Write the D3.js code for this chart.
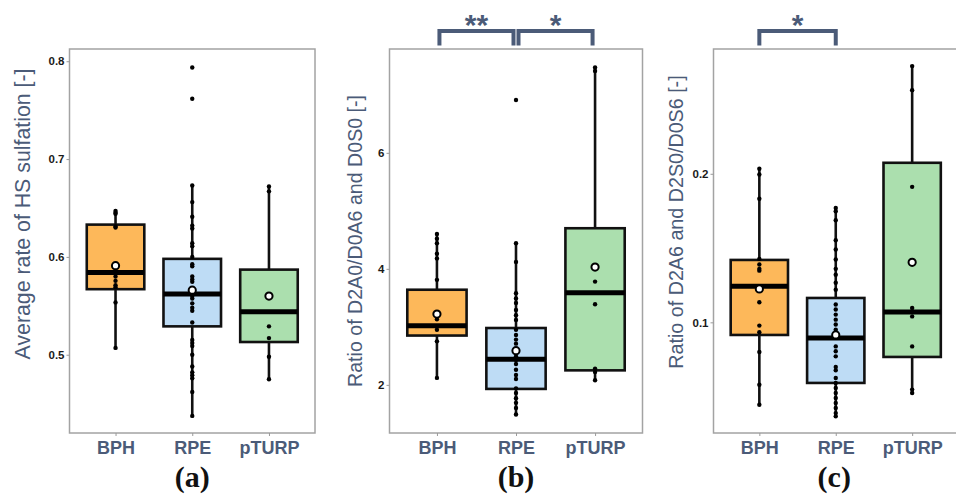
<!DOCTYPE html>
<html>
<head>
<meta charset="utf-8">
<script src="https://cdn.jsdelivr.net/npm/d3@7"></script>
<style>
  html, body { margin: 0; padding: 0; background: #fff; }
  svg { display: block; }
</style>
</head>
<body>
<svg id="chart" width="956" height="497"></svg>
<script>
// ---- data ----
const categories = ["BPH", "RPE", "pTURP"];

// (a) average rate of HS sulfation
const sulfationTicks = [0.5, 0.6, 0.7, 0.8];
const sulfationBox = [            // [lower whisker, Q1, median, Q3, upper whisker]
  [0.507, 0.567, 0.584, 0.633, 0.647],
  [0.438, 0.529, 0.562, 0.598, 0.673],
  [0.475, 0.513, 0.544, 0.587, 0.672]
];
const sulfationMean = [0.591, 0.566, 0.560];
const sulfationBPH = [0.647, 0.645, 0.644, 0.631, 0.630, 0.580, 0.5755, 0.571, 0.569, 0.5535, 0.507];
const sulfationRPE = [0.7936, 0.7616, 0.673, 0.656, 0.641, 0.632, 0.629, 0.614, 0.611, 0.600, 0.5925,
  0.5905, 0.580, 0.577, 0.5745, 0.560, 0.5575, 0.5525, 0.548, 0.545, 0.533, 0.515, 0.512, 0.509,
  0.500, 0.488, 0.482, 0.479, 0.476, 0.462, 0.4375];
const sulfationPTURP = [0.672, 0.667, 0.529, 0.517, 0.498, 0.475];

// (b) ratio of D2A0/D0A6 and D0S0
const d2a0Ticks = [2, 4, 6];
const d2a0Box = [
  [2.11, 2.85, 3.02, 3.64, 4.61],
  [1.47, 1.93, 2.44, 2.98, 4.45],
  [2.07, 2.25, 3.59, 4.70, 7.47]
];
const d2a0Mean = [3.22, 2.59, 4.03];
const d2a0BPH = [4.60, 4.52, 4.44, 4.26, 4.18, 3.81, 3.13, 2.95, 2.75, 2.12];
const d2a0RPE = [6.91, 4.44, 4.12, 3.58, 3.49, 3.41, 3.29, 3.20, 3.12, 2.95, 2.86, 2.78, 2.71, 2.49,
  2.43, 2.36, 2.26, 2.17, 2.10, 1.94, 1.86, 1.77, 1.69, 1.60, 1.49];
const d2a0PTURP = [7.47, 7.41, 3.78, 3.39, 2.28, 2.22, 2.08];

// (c) ratio of D2A6 and D2S0/D0S6
const d2a6Ticks = [0.1, 0.2];
const d2a6Box = [
  [0.0447, 0.0915, 0.1243, 0.1420, 0.2034],
  [0.0367, 0.0592, 0.0895, 0.1164, 0.1770],
  [0.0520, 0.0767, 0.1070, 0.2074, 0.2725]
];
const d2a6Mean = [0.1225, 0.0915, 0.1404];
const d2a6BPH = [0.2034, 0.1995, 0.1832, 0.1427, 0.1389, 0.136, 0.1348, 0.1135, 0.0978, 0.0933,
  0.080, 0.058, 0.0445];
const d2a6RPE = [0.177, 0.1748, 0.1687, 0.1553, 0.149, 0.1423, 0.136, 0.1321, 0.1266, 0.122, 0.112,
  0.1086, 0.1052, 0.1018, 0.0985, 0.0951, 0.0838, 0.0805, 0.0771, 0.070, 0.0677, 0.0625, 0.0592,
  0.0558, 0.0524, 0.0491, 0.0457, 0.0423, 0.0389, 0.0367];
const d2a6PTURP = [0.2725, 0.2563, 0.1912, 0.1097, 0.1074, 0.104, 0.0838, 0.0547, 0.0524];

// ---- styling ----
const fills = ["#fdb85a", "#bedcf5", "#abdfae"];
const slate = "#4b5b78";

const panels = [
  { letter: "(a)", title: "Average rate of HS sulfation [-]", ticks: sulfationTicks, fmt: d3.format(".1f"),
    box: sulfationBox, mean: sulfationMean, points: [sulfationBPH, sulfationRPE, sulfationPTURP],
    domain: [0.42, 0.8125], x0: 69.5, x1: 315,
    titleX: 23, titleY: 214, titleSize: 21.3,
    brackets: [] },
  { letter: "(b)", title: "Ratio of D2A0/D0A6 and D0S0 [-]", ticks: d2a0Ticks, fmt: d3.format("d"),
    box: d2a0Box, mean: d2a0Mean, points: [d2a0BPH, d2a0RPE, d2a0PTURP],
    domain: [1.17, 7.79], x0: 389.5, x1: 642.5,
    titleX: 355, titleY: 241, titleSize: 19.6,
    brackets: [{ from: 0, to: 1, text: "**" }, { from: 1, to: 2, text: "*" }] },
  { letter: "(c)", title: "Ratio of D2A6 and D2S0/D0S6 [-]", ticks: d2a6Ticks, fmt: d3.format(".1f"),
    box: d2a6Box, mean: d2a6Mean, points: [d2a6BPH, d2a6RPE, d2a6PTURP],
    domain: [0.0255, 0.284], x0: 713.5, x1: 958,
    titleX: 676, titleY: 222, titleSize: 19.7,
    brackets: [{ from: 0, to: 1, text: "*" }] }
];

const plotTop = 49, plotBottom = 433;
const svg = d3.select("#chart");

panels.forEach(p => {
  const x = d3.scalePoint().domain(categories).range([p.x0, p.x1]).padding(0.6);
  const y = d3.scaleLinear().domain(p.domain).range([plotBottom, plotTop]);
  const bw = x.step() * 0.75;
  const g = svg.append("g");

  // frame
  g.append("rect")
    .attr("x", p.x0).attr("y", plotTop)
    .attr("width", p.x1 - p.x0).attr("height", plotBottom - plotTop)
    .attr("fill", "none").attr("stroke", "#a3a3a3").attr("stroke-width", 1.5);

  // y axis
  const ya = g.append("g").attr("transform", `translate(${p.x0},0)`)
    .call(d3.axisLeft(y).tickValues(p.ticks).tickFormat(p.fmt).tickSize(3).tickPadding(2));
  ya.select(".domain").remove();
  ya.selectAll(".tick line").attr("stroke", "#9a9a9a");
  ya.selectAll(".tick text")
    .attr("font-family", "Liberation Sans, Arial, sans-serif")
    .attr("font-size", 11.5).attr("font-weight", "bold").attr("fill", "#1a1a1a");

  // x axis
  const xa = g.append("g").attr("transform", `translate(0,${plotBottom})`)
    .call(d3.axisBottom(x).tickSize(3).tickPadding(5));
  xa.select(".domain").remove();
  xa.selectAll(".tick line").attr("stroke", "#9a9a9a");
  xa.selectAll(".tick text")
    .attr("font-family", "Liberation Sans, Arial, sans-serif")
    .attr("font-size", 18).attr("font-weight", "bold").attr("fill", slate);

  // y title
  g.append("text")
    .attr("transform", `translate(${p.titleX},${p.titleY}) rotate(-90)`)
    .attr("text-anchor", "middle").attr("dominant-baseline", "central")
    .attr("font-family", "Liberation Sans, Arial, sans-serif")
    .attr("font-size", p.titleSize).attr("fill", slate)
    .text(p.title);

  // panel letter
  g.append("text")
    .attr("x", (p.x0 + Math.min(p.x1, 955)) / 2).attr("y", 487)
    .attr("text-anchor", "middle")
    .attr("font-family", "Liberation Serif, DejaVu Serif, serif")
    .attr("font-size", 30).attr("font-weight", "bold").attr("fill", "#111")
    .text(p.letter);

  categories.forEach((c, i) => {
    const cx = x(c);
    const [lo, q1, med, q3, hi] = p.box[i];
    // whisker
    g.append("line")
      .attr("x1", cx).attr("x2", cx).attr("y1", y(lo)).attr("y2", y(hi))
      .attr("stroke", "#111").attr("stroke-width", 2.6);
    // box
    g.append("rect")
      .attr("x", cx - bw / 2).attr("y", y(q3))
      .attr("width", bw).attr("height", y(q1) - y(q3))
      .attr("fill", fills[i]).attr("stroke", "#111").attr("stroke-width", 2.6);
    // median
    g.append("line")
      .attr("x1", cx - bw / 2).attr("x2", cx + bw / 2).attr("y1", y(med)).attr("y2", y(med))
      .attr("stroke", "#000").attr("stroke-width", 5);
    // observations
    g.selectAll(null).data(p.points[i]).join("circle")
      .attr("cx", cx).attr("cy", d => y(d)).attr("r", 2.2).attr("fill", "#000");
    // mean
    g.append("circle")
      .attr("cx", cx).attr("cy", y(p.mean[i])).attr("r", 3.6)
      .attr("fill", "#fff").attr("stroke", "#000").attr("stroke-width", 2);
  });

  // significance brackets
  p.brackets.forEach(b => {
    const inset = p.brackets.length > 1 ? 2.5 : 0;
    const xa0 = x(categories[b.from]) + inset, xb0 = x(categories[b.to]) - inset;
    const yTop = 31, yLeg = 45.5;
    g.append("path")
      .attr("d", `M${xa0},${yLeg}V${yTop}H${xb0}V${yLeg}`)
      .attr("fill", "none").attr("stroke", slate).attr("stroke-width", 4);
    g.append("text")
      .attr("x", (xa0 + xb0) / 2).attr("y", 35)
      .attr("text-anchor", "middle")
      .attr("font-family", "Liberation Sans, Arial, sans-serif")
      .attr("font-size", 30).attr("font-weight", "bold").attr("fill", slate)
      .text(b.text);
  });
});
</script>
</body>
</html>
